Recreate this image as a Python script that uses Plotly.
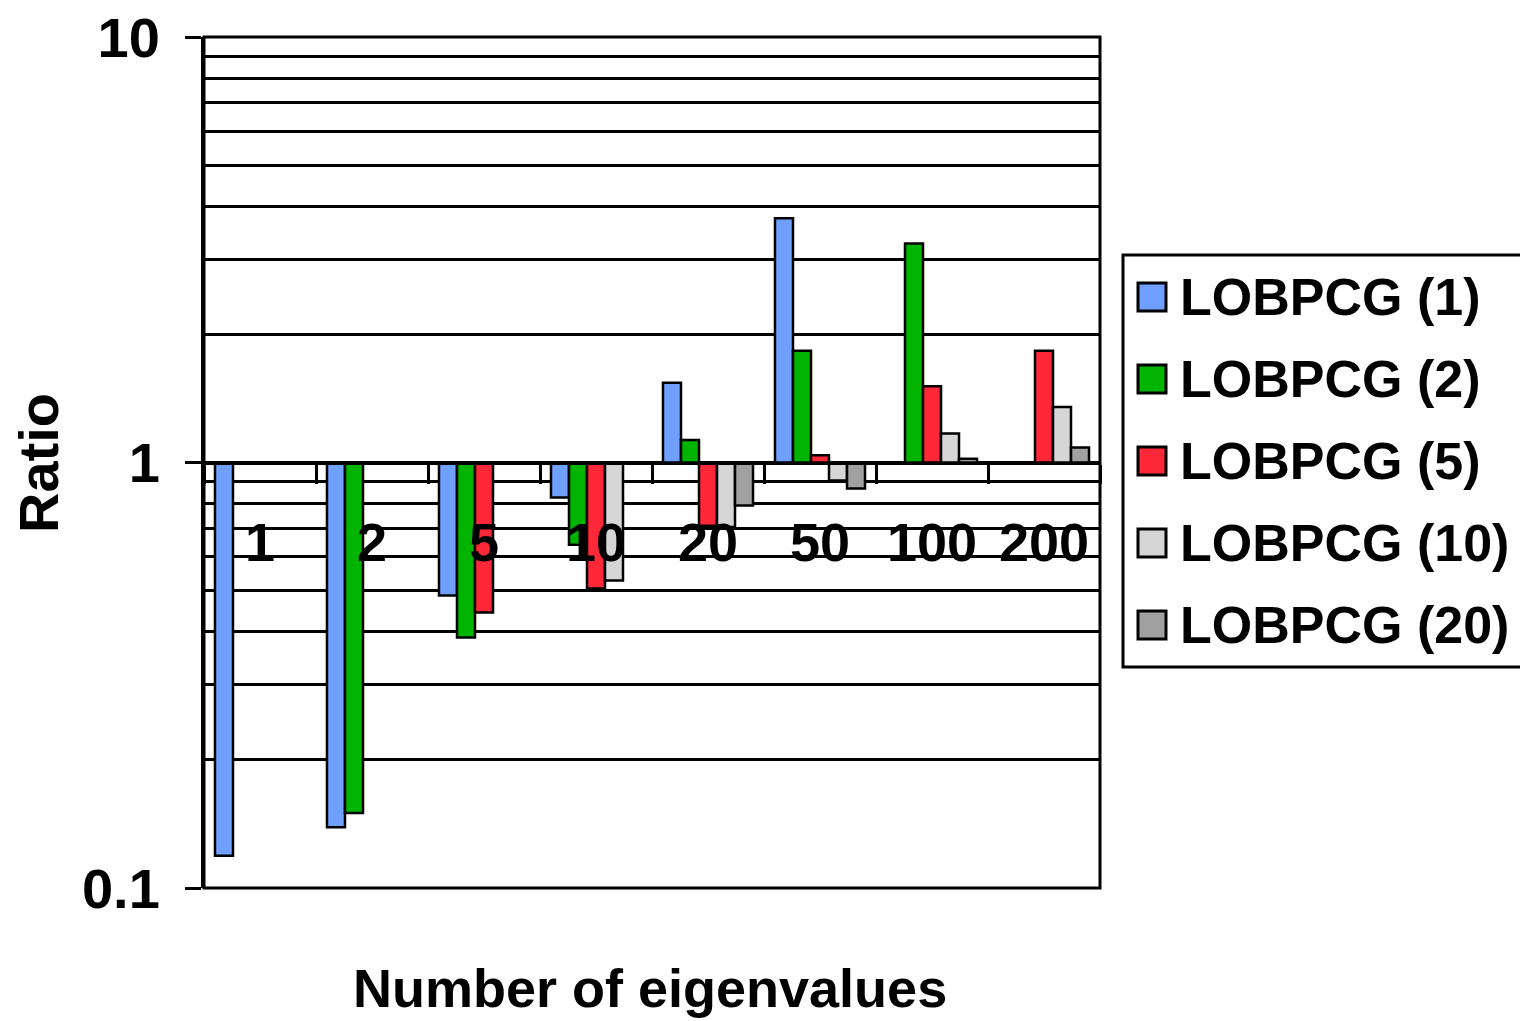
import plotly.graph_objects as go

categories = ["1", "2", "5", "10", "20", "50", "100", "200"]
series_names = ["LOBPCG (1)", "LOBPCG (2)", "LOBPCG (5)", "LOBPCG (10)", "LOBPCG (20)"]
lobpcg_1 = [0.119, 0.139, 0.487, 0.827, 1.54, 3.75, None, None]
lobpcg_2 = [None, 0.150, 0.388, 0.641, 1.13, 1.83, 3.27, None]
lobpcg_5 = [None, None, 0.444, 0.506, 0.71, 1.04, 1.51, 1.83]
lobpcg_10 = [None, None, None, 0.528, 0.705, 0.907, 1.17, 1.35]
lobpcg_20 = [None, None, None, None, 0.792, 0.869, 1.02, 1.085]
colors = ["#6FA0FF", "#00B400", "#FF2838", "#D6D6D6", "#A0A0A0"]
y_minor = [0.2, 0.3, 0.4, 0.5, 0.6, 0.7, 0.8, 0.9, 2, 3, 4, 5, 6, 7, 8, 9]
y_major = [0.1, 1, 10]
y_major_text = ["0.1", "1", "10"]

FONT = "Liberation Sans, Arial, sans-serif"

W, H = 1520, 1021
L, R, T, B = 204, 420, 37, 133
PW, PH = W - L - R, H - T - B


def px(x):
    return (x - L) / PW


def py(y):
    return (H - B - y) / PH


fig = go.Figure()
all_series = [lobpcg_1, lobpcg_2, lobpcg_5, lobpcg_10, lobpcg_20]
for name, vals, col in zip(series_names, all_series, colors):
    fig.add_trace(go.Bar(
        x=categories,
        y=[None if v is None else v - 1 for v in vals],
        base=1,
        name=name,
        marker=dict(color=col, line=dict(color="black", width=2.5)),
        showlegend=False,
    ))

shapes = [dict(type="rect", xref="paper", yref="paper", x0=0, x1=1, y0=0, y1=1,
               line=dict(color="black", width=3), layer="above")]
annotations = [
    dict(text="Number of eigenvalues", xref="paper", yref="paper", x=px(650), y=py(988),
         xanchor="center", yanchor="middle", showarrow=False,
         font=dict(family=FONT, size=54, color="black", weight="bold")),
    dict(text="Ratio", xref="paper", yref="paper", x=px(38), y=py(463), textangle=-90,
         xanchor="center", yanchor="middle", showarrow=False,
         font=dict(family=FONT, size=56, color="black", weight="bold")),
]

# legend box
shapes.append(dict(type="rect", xref="paper", yref="paper", x0=px(1123), x1=px(1535),
                   y0=py(667), y1=py(255), line=dict(color="black", width=3),
                   fillcolor="white", layer="above"))
for i, (name, col) in enumerate(zip(series_names, colors)):
    cy = 297 + 82 * i
    shapes.append(dict(type="rect", xref="paper", yref="paper", x0=px(1138), x1=px(1166),
                       y0=py(cy + 14), y1=py(cy - 14), fillcolor=col,
                       line=dict(color="black", width=3), layer="above"))
    annotations.append(dict(text=name, xref="paper", yref="paper", x=px(1178), y=py(cy),
                            xanchor="left", yanchor="middle", showarrow=False,
                            font=dict(family=FONT, size=52, color="black", weight="bold")))

fig.update_layout(
    width=W, height=H,
    margin=dict(l=L, r=R, t=T, b=B, autoexpand=False),
    paper_bgcolor="white", plot_bgcolor="white",
    barmode="group", bargap=0.196, bargroupgap=0,
    font=dict(family=FONT, color="black", size=54),
    showlegend=False,
    xaxis=dict(
        type="category", anchor="free", position=0.5,
        showline=True, linecolor="black", linewidth=3,
        ticks="outside", tickson="boundaries", ticklen=19, tickwidth=3, tickcolor="black",
        tickangle=0, ticklabelstandoff=32,
        tickfont=dict(family=FONT, size=54, color="black", weight="bold"),
        showgrid=False, zeroline=False,
    ),
    yaxis=dict(
        type="log", range=[-1, 1],
        tickvals=y_major, ticktext=y_major_text,
        ticks="outside", ticklen=16, tickwidth=3, tickcolor="black",
        ticklabelstandoff=14,
        showline=True, linecolor="black", linewidth=3,
        showgrid=True, gridcolor="black", gridwidth=3,
        tickfont=dict(family=FONT, size=56, color="black", weight="bold"),
        minor=dict(tickvals=y_minor, showgrid=True, gridcolor="black", gridwidth=3, ticks=""),
        zeroline=False,
    ),
    shapes=shapes,
    annotations=annotations,
)

fig.write_html("out.html")
